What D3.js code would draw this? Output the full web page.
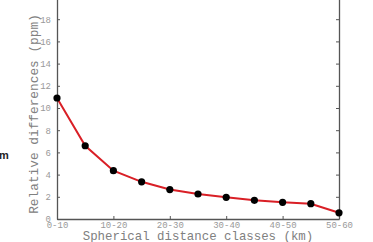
<!DOCTYPE html>
<meta charset="utf-8">
<style>
  body { margin: 0; background: #fff; }
  text { font-family: "Liberation Mono", "DejaVu Sans Mono", monospace; }
</style>
<body>
<script src="https://d3js.org/d3.v7.min.js"></script>
<script>
  // distance class index (half-class steps) and relative differences (ppm)
  const classIndex = [0, 1, 2, 3, 4, 5, 6, 7, 8, 9, 10];
  const relDiff = [10.9, 6.6, 4.35, 3.35, 2.65, 2.25, 1.95, 1.68, 1.5, 1.38, 0.56];
  const xTickLabels = ['0-10', '10-20', '20-30', '30-40', '40-50', '50-60'];
  const yTicks = [0, 2, 4, 6, 8, 10, 12, 14, 16, 18, 20];

  const W = 373, H = 242;
  const mLeft = 57, mRight = 339, mTop = -3, mBottom = 219;

  const svg = d3.select('body').append('svg')
      .attr('width', W).attr('height', H);

  const x = d3.scaleLinear().domain([0, 10]).range([mLeft, mRight]);
  const y = d3.scaleLinear().domain([0, 20]).range([mBottom, mTop]);

  const axisCol = '#555', textCol = '#999';

  // left axis with ticks pointing inward
  const yAxis = svg.append('g').attr('transform', `translate(${mLeft},0)`)
      .call(d3.axisLeft(y).tickValues(yTicks).tickSizeInner(-3).tickSizeOuter(0).tickPadding(6));
  yAxis.select('.domain').attr('stroke', axisCol).attr('stroke-width', 1.3);
  yAxis.selectAll('.tick line').attr('stroke', axisCol);
  yAxis.selectAll('.tick text').attr('fill', textCol).style('font-size', '9px')
      .style('font-family', '"Liberation Mono", monospace');

  // right axis, ticks only
  const yAxisR = svg.append('g').attr('transform', `translate(${mRight},0)`)
      .call(d3.axisRight(y).tickValues(yTicks).tickSizeInner(-3).tickSizeOuter(0).tickFormat(''));
  yAxisR.select('.domain').attr('stroke', axisCol).attr('stroke-width', 1.3);
  yAxisR.selectAll('.tick line').attr('stroke', axisCol);

  // bottom axis
  const xAxis = svg.append('g').attr('transform', `translate(0,${mBottom})`)
      .call(d3.axisBottom(x).tickValues([0, 2, 4, 6, 8, 10])
        .tickFormat((d, i) => xTickLabels[i]).tickSizeInner(-3).tickSizeOuter(0).tickPadding(3));
  xAxis.select('.domain').attr('stroke', axisCol).attr('stroke-width', 1.3);
  xAxis.selectAll('.tick line').attr('stroke', axisCol);
  xAxis.selectAll('.tick text').attr('fill', textCol).style('font-size', '9px')
      .style('font-family', '"Liberation Mono", monospace');

  // top axis
  const xAxisT = svg.append('g').attr('transform', `translate(0,${mTop})`)
      .call(d3.axisTop(x).tickValues([0, 2, 4, 6, 8, 10]).tickSizeInner(-3).tickSizeOuter(0).tickFormat(''));
  xAxisT.select('.domain').attr('stroke', axisCol);
  xAxisT.selectAll('.tick line').attr('stroke', '#ccc');

  // series
  const line = d3.line().x((d, i) => x(classIndex[i])).y(d => y(d));
  svg.append('path').datum(relDiff)
      .attr('d', line)
      .attr('fill', 'none')
      .attr('stroke', '#d91f26')
      .attr('stroke-width', 2);

  svg.selectAll('circle.pt').data(relDiff).enter().append('circle')
      .attr('class', 'pt')
      .attr('cx', (d, i) => x(classIndex[i]))
      .attr('cy', d => y(d))
      .attr('r', 3.6)
      .attr('fill', '#000');

  // titles
  svg.append('text')
      .attr('x', (mLeft + mRight) / 2).attr('y', 240)
      .attr('text-anchor', 'middle')
      .attr('fill', '#808080')
      .style('font-size', '12.4px')
      .text('Spherical distance classes (km)');

  svg.append('text')
      .attr('transform', `translate(38,${(13 + 215) / 2}) rotate(-90)`)
      .attr('text-anchor', 'middle')
      .attr('fill', '#808080')
      .style('font-size', '12.8px')
      .text('Relative differences (ppm)');

  // fragment of neighbouring figure text at the left edge
  svg.append('text')
      .attr('x', -1).attr('y', 159)
      .attr('fill', '#222')
      .style('font-family', '"Liberation Sans", Arial, sans-serif')
      .style('font-weight', 'bold')
      .style('font-size', '11px')
      .text('m');
</script>
